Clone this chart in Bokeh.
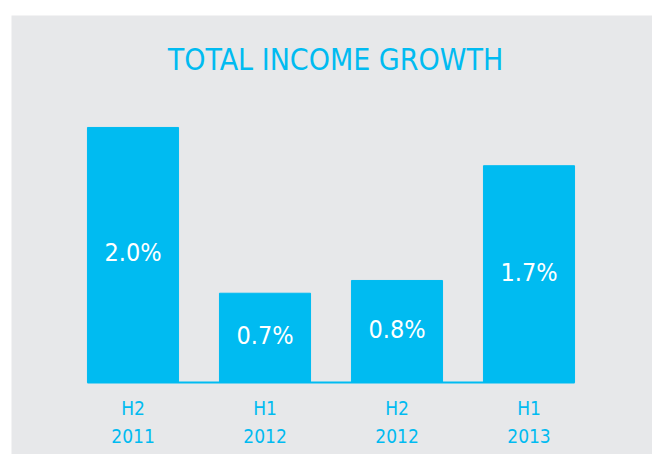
from bokeh.plotting import figure
from bokeh.models import Range1d, Label, ColumnDataSource
from bokeh.core.properties import value
from bokeh.embed import file_html
from bokeh.resources import INLINE

# Data
periods = ["H2", "H1", "H2", "H1"]
years = ["2011", "2012", "2012", "2013"]
growth = [2.0, 0.7, 0.8, 1.7]
growth_labels = ["2.0%", "0.7%", "0.8%", "1.7%"]
title_text = "TOTAL INCOME GROWTH"

BLUE = "#00BBF1"
BG = "#E7E8EA"
FONT = "DejaVu Sans Condensed"

xs = list(range(len(growth)))
bar_w = 0.69
src = ColumnDataSource(dict(x=xs, top=growth, mid=[g / 2 for g in growth],
                            lab=growth_labels, per=periods, yr=years))

p = figure(width=641, height=439, output_backend="svg", toolbar_location=None,
           x_range=Range1d(-0.9205, 3.9356), y_range=Range1d(-0.5647, 2.878),
           min_border=0, margin=(15, 0, 0, 11))
p.outline_line_color = None
p.background_fill_color = BG
p.border_fill_color = BG
p.xaxis.visible = False
p.yaxis.visible = False
p.grid.visible = False

p.vbar(x="x", top="top", bottom=0, width=bar_w, color=BLUE, source=src)
p.line(x=[xs[0] - bar_w / 2, xs[-1] + bar_w / 2], y=[0, 0], line_color=BLUE, line_width=2)

p.text(x="x", y="mid", text="lab", source=src, text_color="white",
       text_font=value(FONT), text_font_size="25px", text_align="center",
       text_baseline="middle", y_offset=-2)
p.text(x="x", y=-0.2, text="per", source=src, text_color=BLUE,
       text_font=value(FONT), text_font_size="19px", text_align="center",
       text_baseline="middle")
p.text(x="x", y=-0.4235, text="yr", source=src, text_color=BLUE,
       text_font=value(FONT), text_font_size="19px", text_align="center",
       text_baseline="middle")

p.add_layout(Label(x=324, y=395, x_units="screen", y_units="screen", text=title_text,
                   text_color=BLUE, text_font=FONT, text_font_size="30px",
                   text_align="center", text_baseline="middle"))

open("out.html", "w").write(file_html(p, INLINE))
